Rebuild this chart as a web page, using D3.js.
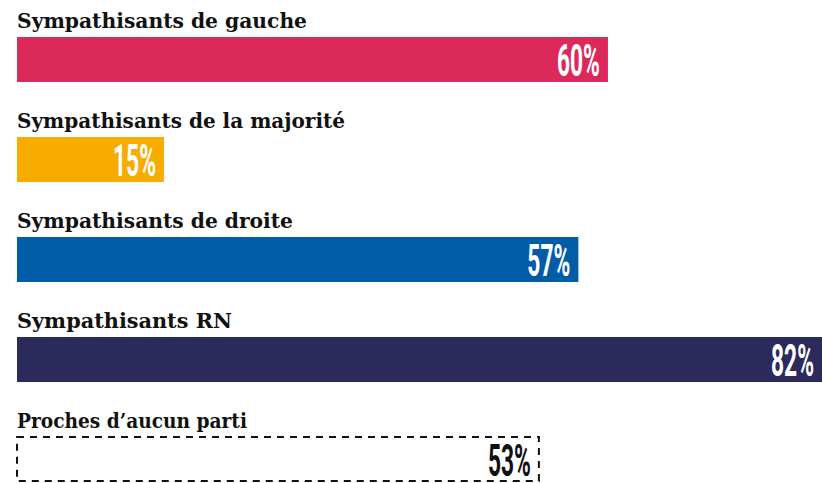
<!DOCTYPE html>
<html>
<head>
<meta charset="utf-8">
<script src="https://cdn.jsdelivr.net/npm/d3@7"></script>
<style>
  body { margin: 0; background: #fff; }
  svg { display: block; }
</style>
</head>
<body>
<svg></svg>
<script>
const width = 822;
const height = 483;

const categories = [
    "Sympathisants de gauche",
    "Sympathisants de la majorité",
    "Sympathisants de droite",
    "Sympathisants RN",
    "Proches d\u2019aucun parti"
];
const values = [60, 15, 57, 82, 53];
const colors = ["#dc295c", "#f8ac00", "#015ca8", "#2b2a5b", "none"];
const labelWidths = [290, 328, 276, 215, 230];

let svg = d3.select("svg").attr("width", width).attr("height", height);

let x = d3.scaleLinear().domain([0, 82]).range([16, 825]);
// pas de 100 px, barres de 45 px
let y = d3.scaleBand().domain(categories).range([37, 482]).paddingInner(0.55).paddingOuter(0);

let rows = svg.selectAll("g.row")
    .data(categories)
    .enter()
    .append("g")
    .attr("class", "row")
    .attr("transform", (d) => `translate(0, ${y(d)})`);

// barres
rows.append("rect")
    .attr("x", x(0) + 1)
    .attr("y", 0)
    .attr("width", (d, i) => x(values[i]) - x(0) - 1)
    .attr("height", (d, i) => colors[i] === "none" ? 44 : y.bandwidth())
    .style("fill", (d, i) => colors[i])
    .style("stroke", (d, i) => colors[i] === "none" ? "#111" : "none")
    .style("stroke-width", 2)
    .style("stroke-dasharray", (d, i) => colors[i] === "none" ? "7,6" : null);

// libellés
rows.append("text")
    .attr("x", 17)
    .attr("y", -9)
    .attr("textLength", (d, i) => labelWidths[i])
    .attr("lengthAdjust", "spacingAndGlyphs")
    .style("font-family", "DejaVu Serif")
    .style("font-weight", "bold")
    .style("font-size", "20px")
    .style("fill", "#111")
    .text((d) => d);

// valeurs
rows.append("text")
    .attr("x", (d, i) => Math.min(x(values[i]), width) - 8)
    .attr("y", 39)
    .attr("text-anchor", "end")
    .attr("textLength", 43)
    .attr("lengthAdjust", "spacingAndGlyphs")
    .style("font-family", "Roboto")
    .style("font-weight", "bold")
    .style("font-size", "44px")
    .style("fill", (d, i) => colors[i] === "none" ? "#111" : "#fff")
    .text((d, i) => values[i] + "%");
</script>
</body>
</html>
